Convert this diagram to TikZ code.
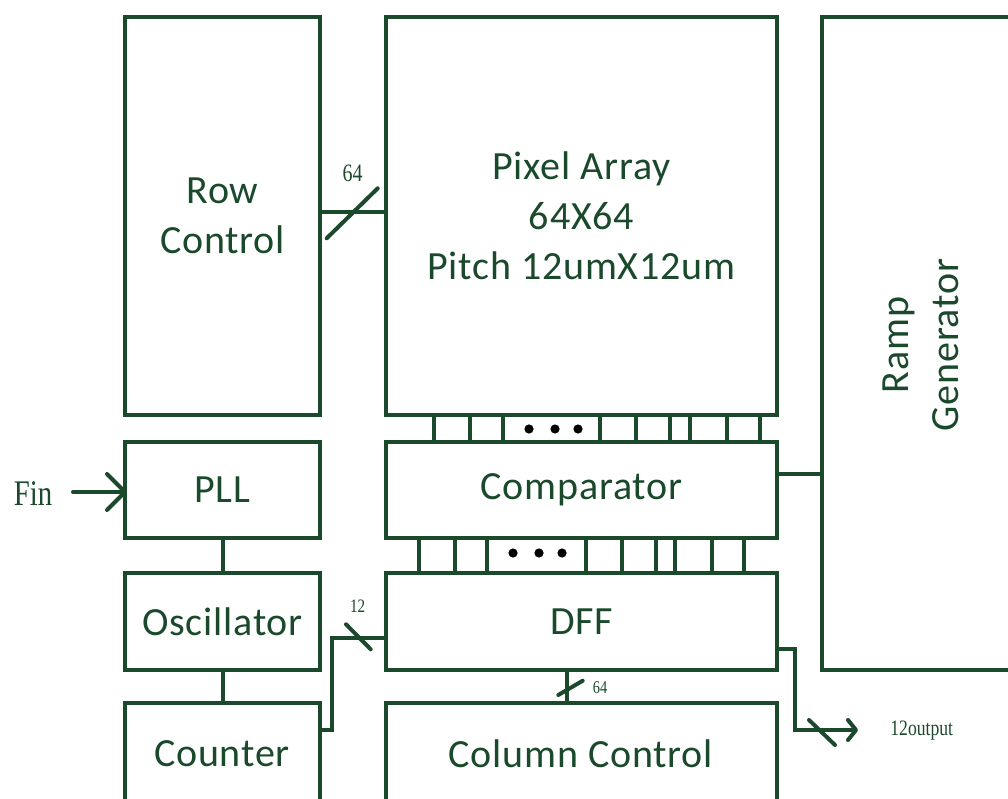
\documentclass[tikz,border=0pt]{standalone}
\usepackage{fontspec}
\setmainfont{Carlito}[LetterSpace=2]
\newfontfamily\lblfont[FakeStretch=0.8]{Liberation Serif}
\usetikzlibrary{calc}
\definecolor{dg}{RGB}{27,73,43}
\begin{document}
\begin{tikzpicture}[x=1pt,y=-1pt,
  blk/.style={draw=dg, line width=4pt, rectangle, inner sep=0pt, outer sep=0pt, text=dg, font=\fontsize{40pt}{50pt}\selectfont, align=center},
  txt/.style={text=dg, inner sep=0pt, font=\fontsize{40pt}{50pt}\selectfont, align=center},
  wire/.style={draw=dg, line width=4pt},
  slash/.style={draw=dg, line width=4pt, line cap=round},
  lbl/.style={text=dg, inner sep=0pt}
]
\useasboundingbox (0,0) rectangle (1008,799);
\clip (0,0) rectangle (1008,799);

% blocks
\node[blk, minimum width=195pt, minimum height=398pt] (row) at (222.5,216) {Row\\Control};
\node[blk, minimum width=391pt, minimum height=398pt] (pix) at (581.5,216) {Pixel Array\\64X64\\Pitch 12umX12um};
\node[blk, minimum width=200pt, minimum height=653pt] (ramp) at (922,343.5) {};
\node[txt, rotate=90] (rampt) at (921,345) {Ramp\\Generator};
\node[blk, minimum width=195pt, minimum height=96pt] (pll) at (222.5,490) {PLL};
\node[blk, minimum width=391pt, minimum height=96pt] (comp) at (581.5,490) {Comparator};
\node[blk, minimum width=195pt, minimum height=97pt] (osc) at (222.5,621.5) {Oscillator};
\node[blk, minimum width=391pt, minimum height=97pt] (dff) at (581.5,621.5) {DFF};
\node[blk, minimum width=195pt, minimum height=120pt] (cnt) at (222.5,763) {};
\node[txt] (cntt) at (222,754) {Counter};
\node[blk, minimum width=391pt, minimum height=120pt] (col) at (581.5,763) {};
\node[txt] (colt) at (581,754) {Column Control};

% row control -> pixel array
\draw[wire] (row.east |- 0,212) -- (pix.west |- 0,212);
\draw[slash] (326.7,238.3) -- (377.7,188.3);
\node[lbl, font=\lblfont\fontsize{25pt}{25pt}\selectfont] (l64a) at (352.7,173) {64};

% bus pixel array -> comparator
\foreach \x in {434,470,503,600,636,670,690,727,760}{
  \coordinate (bx) at (\x,0);
  \draw[wire] (bx |- pix.south) -- (bx |- comp.north);
}
\foreach \x in {529,555,578}{\fill[black] (\x,429) circle (4.6pt);}

% bus comparator -> dff
\foreach \x in {419,455,487,586,622,656,675,712,744}{
  \coordinate (bx) at (\x,0);
  \draw[wire] (bx |- comp.south) -- (bx |- dff.north);
}
\foreach \x in {513,539,562}{\fill[black] (\x,553) circle (4.6pt);}

% Fin -> PLL
\node[lbl, font=\lblfont\fontsize{36pt}{36pt}\selectfont] (fin) at (33,494) {Fin};
\coordinate (pllin) at (pll.west |- 0,492);
\draw[wire, line cap=round] (73,492) -- (pllin);
\draw[slash, line join=round] ($(pllin)+(-18,-18)$) -- (pllin) -- ($(pllin)+(-18,18)$);

% PLL - Osc - Counter
\draw[wire] (pll.south) -- (osc.north);
\draw[wire] (osc.south) -- (cnt.north);

% comparator -> ramp
\coordinate (cr) at ($(comp.east)+(0,-16)$);
\draw[wire] (cr) -- (ramp.west |- cr);

% dff <- counter
\coordinate (dl) at ($(dff.west)+(0,16.5)$);
\draw[wire] (dl) -- (331.7,0 |- dl) -- (331.7,730) -- (cnt.east |- 0,730);
\draw[slash] (346,624.3) -- (370.7,649.3);
\node[lbl, font=\lblfont\fontsize{19pt}{19pt}\selectfont] (l12) at (357.7,606) {12};

% dff -> column control
\coordinate (dc) at (566.7,0);
\draw[wire] (dc |- dff.south) -- (dc |- col.north);
\draw[slash] (558.3,695) -- (582.7,680.7);
\node[lbl, font=\lblfont\fontsize{18pt}{18pt}\selectfont] (l64b) at (600,688) {64};

% dff -> output
\coordinate (dr) at ($(dff.east)+(0,27)$);
\coordinate (otip) at (856,730);
\draw[wire] (dr) -- (795,0 |- dr) -- (795,730) -- (otip);
\draw[slash, line join=round] (848,720) -- (otip) -- (848,740);
\draw[slash] (809,720) -- (835,745);
\node[lbl, font=\lblfont\fontsize{22pt}{22pt}\selectfont] (out) at (921.7,730.7) {12output};
\end{tikzpicture}
\end{document}
